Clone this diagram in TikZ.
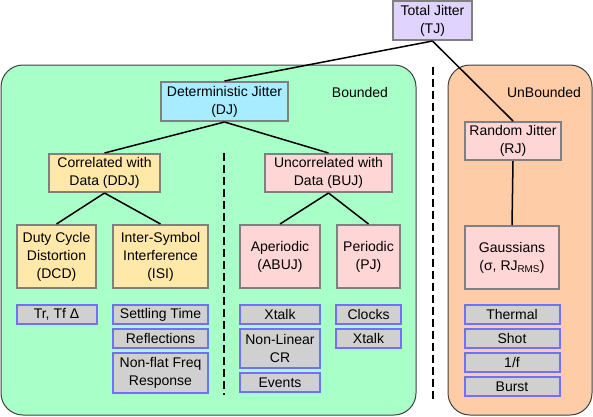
\documentclass[tikz,border=0pt]{standalone}
\usepackage{fontspec}
\setmainfont{Liberation Sans}
\usetikzlibrary{positioning}

\definecolor{boundgreen}{HTML}{A8FFC8}
\definecolor{unboundorange}{HTML}{FFCCA8}
\definecolor{tjlilac}{HTML}{E0D4FF}
\definecolor{djcyan}{HTML}{A8ECFF}
\definecolor{ddjyellow}{HTML}{FFE8A8}
\definecolor{bujpink}{HTML}{FFD6D6}
\definecolor{leafgray}{HTML}{D0D0D0}
\definecolor{leafblue}{HTML}{7070FF}
\definecolor{boxgray}{HTML}{808080}

\begin{document}
\begin{tikzpicture}[
    x=1pt, y=-1pt,
    every node/.style={font=\fontsize{14}{18}\selectfont},
    region/.style={draw=black!75, line width=1pt, rounded corners=22pt},
    cat/.style={rectangle, draw=boxgray, line width=2pt, align=center, inner sep=0pt},
    leaf/.style={rectangle, draw=leafblue, fill=leafgray, line width=2pt, align=center, inner sep=0pt, minimum height=19pt},
    link/.style={line width=1.5pt},
    sepline/.style={line width=2.5pt, dash pattern=on 8pt off 4pt},
]
    \useasboundingbox (0,0) rectangle (593,416);

    % regions
    \draw[region, fill=boundgreen] (1,65) rectangle (416,415);
    \draw[region, fill=unboundorange] (448,65) rectangle (592,415);
    \node (bnd) at (360,92) {Bounded};
    \node (unbnd) at (544,92) {UnBounded};
    \draw[sepline] (433,67) -- (433,400);
    \draw[sepline] (224,153) -- (224,395);

    % tree
    \node[cat, fill=tjlilac, minimum width=79pt, minimum height=39pt] (tj) at (432.5,20.5) {Total Jitter\\(TJ)};
    \node[cat, fill=djcyan, minimum width=127pt, minimum height=39pt] (dj) at (224.5,101.5) {Deterministic Jitter\\(DJ)};
    \node[cat, fill=bujpink, minimum width=96pt, minimum height=38pt] (rj) at (513,141) {Random Jitter\\(RJ)};
    \node[cat, fill=ddjyellow, minimum width=111pt, minimum height=38pt] (ddj) at (104.5,173) {Correlated with\\Data (DDJ)};
    \node[cat, fill=bujpink, minimum width=127pt, minimum height=38pt] (buj) at (328.5,173) {Uncorrelated with\\Data (BUJ)};

    \node[cat, fill=ddjyellow, minimum width=79pt, minimum height=63pt] (dcd) at (56.5,256.5) {Duty Cycle\\Distortion\\(DCD)};
    \node[cat, fill=ddjyellow, minimum width=95pt, minimum height=63pt] (isi) at (160.5,256.5) {Inter-Symbol\\Interference\\(ISI)};
    \node[cat, fill=bujpink, minimum width=80pt, minimum height=63pt] (abuj) at (280,256.5) {Aperiodic\\(ABUJ)};
    \node[cat, fill=bujpink, minimum width=63pt, minimum height=63pt] (pj) at (368.5,256.5) {Periodic\\(PJ)};
    \node[cat, fill=bujpink, minimum width=94pt, minimum height=63pt] (gauss) at (512,257.5) {Gaussians\\(σ, RJ\textsubscript{RMS})};

    % causes
    \node[leaf, minimum width=80pt, below=15pt of dcd] (trtf) {Tr, Tf Δ};

    \node[leaf, minimum width=95pt, below=15pt of isi] (settle) {Settling Time};
    \node[leaf, minimum width=95pt, below=3pt of settle] (refl) {Reflections};
    \node[leaf, minimum width=95pt, minimum height=40pt, below=3pt of refl] (nonflat) {Non-flat Freq\\Response};

    \node[leaf, minimum width=80pt, below=15pt of abuj] (xtalka) {Xtalk};
    \node[leaf, minimum width=80pt, minimum height=39pt, below=3pt of xtalka] (nonlin) {Non-Linear\\CR};
    \node[leaf, minimum width=80pt, below=3pt of nonlin] (events) {Events};

    \node[leaf, minimum width=65pt, below=15pt of pj] (clocks) {Clocks};
    \node[leaf, minimum width=65pt, below=3pt of clocks] (xtalkp) {Xtalk};

    \node[leaf, minimum width=95pt, below=14pt of gauss] (thermal) {Thermal};
    \node[leaf, minimum width=95pt, below=3pt of thermal] (shot) {Shot};
    \node[leaf, minimum width=95pt, below=3pt of shot] (flick) {1/f};
    \node[leaf, minimum width=95pt, below=3pt of flick] (burst) {Burst};

    \draw[link] (tj.south) -- (dj.north);
    \draw[link] (tj.south) -- (rj.north);
    \draw[link] (dj.south) -- (ddj.north);
    \draw[link] (dj.south) -- (buj.north);
    \draw[link] (ddj.south) -- (dcd.north);
    \draw[link] (ddj.south) -- (isi.north);
    \draw[link] (buj.south) -- (abuj.north);
    \draw[link] (buj.south) -- (pj.north);
    \draw[link] (rj.south) -- (gauss.north);
\end{tikzpicture}
\end{document}
